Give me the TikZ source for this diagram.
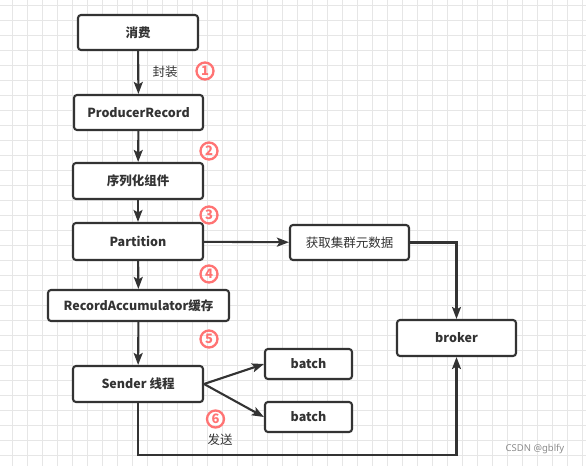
\documentclass[tikz,border=0pt]{standalone}
\usepackage{fontspec}
\newfontfamily\cjk{Noto Sans CJK SC}
\newfontfamily\markfont{Noto Sans}
\usetikzlibrary{arrows.meta}
\definecolor{linegray}{HTML}{333333}
\definecolor{gridgray}{HTML}{E6E6E6}
\definecolor{stepred}{HTML}{FF7373}

\begin{document}
\begin{tikzpicture}[x=1pt,y=-1pt,font=\cjk\fontsize{12.5}{14}\selectfont,
  box/.style={draw=linegray, line width=2.1pt, rounded corners=3pt, fill=white,
    text=linegray, inner sep=0pt, font=\cjk\fontsize{12.5}{14}\selectfont\bfseries},
  flow/.style={draw=linegray, line width=2.1pt, -{Stealth[length=12pt,width=9pt,inset=2.5pt]}},
  stepnum/.style={circle, draw=stepred, line width=2.3pt, text=stepred, inner sep=0pt,
    minimum size=17, font=\cjk\fontsize{13}{13}\selectfont\bfseries},
  gridline/.style={gridgray, line width=.8pt}]

\useasboundingbox (0,0) rectangle (586,466);
\fill[white] (0,0) rectangle (586,466);

% background grid
\foreach \gx in {12,27,...,582} \draw[gridline] (\gx,0) -- (\gx,466);
\foreach \gy in {5,20,...,465} \draw[gridline] (0,\gy) -- (586,\gy);

% main column
\node[box, minimum width=120, minimum height=35] (consume) at (138,32.5) {消费};
\node[box, minimum width=129, minimum height=35] (record) at (138.5,112.5) {ProducerRecord};
\node[box, minimum width=130, minimum height=36] (serial) at (138,181) {序列化组件};
\node[box, minimum width=130, minimum height=37] (partition) at (138,241.5) {Partition};
\node[box, minimum width=181, minimum height=31] (accum) at (138.5,305.5) {RecordAccumulator缓存};
\node[box, minimum width=130, minimum height=36] (sender) at (138,384) {Sender 线程};

% right side
\node[box, minimum width=119, minimum height=35, font=\cjk\fontsize{12.5}{14}\selectfont] (meta) at (349.5,242.5) {获取集群元数据};
\node[box, minimum width=119, minimum height=36] (broker) at (456.5,338) {broker};
\node[box, minimum width=87, minimum height=30] (batcha) at (308.5,364) {batch};
\node[box, minimum width=87, minimum height=30] (batchb) at (308.5,417) {batch};

\draw[flow] (consume) -- (record);
\draw[flow] (record) -- (serial);
\draw[flow] (serial) -- (partition);
\draw[flow] (partition) -- (accum);
\draw[flow] (accum) -- (sender);
\draw[flow] (partition) -- (meta);
\draw[flow] (meta.east) -| (broker.north);
\draw[flow] (sender.east) -- (batcha.west);
\draw[flow] (sender.east) -- (batchb.west);
\coordinate (bend) at (138,455);
\draw[flow] (sender.south) -- (sender.south |- bend) -| (broker.south);

% labels
\node[text=linegray] (wrap) at (165,72) {封装};
\node[text=linegray] (send) at (220,440) {发送};
\node[stepnum] (one) at (205,71) {1};
\node[stepnum] (two) at (209,151) {2};
\node[stepnum] (three) at (209,215) {3};
\node[stepnum] (four) at (209,274) {4};
\node[stepnum] (five) at (209,339) {5};
\node[stepnum] (six) at (215.5,419) {6};

\node[text=black!45, font=\markfont\fontsize{9.5}{11}\selectfont] (mark) at (535,449) {CSDN @gblfy};

\end{tikzpicture}
\end{document}
